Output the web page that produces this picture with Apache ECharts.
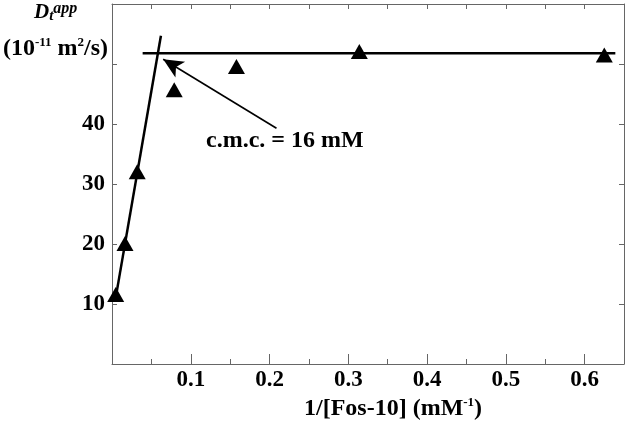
<!DOCTYPE html>
<html>
<head>
<meta charset="utf-8">
<script src="https://cdn.jsdelivr.net/npm/echarts@6/dist/echarts.min.js"></script>
<style>html,body{margin:0;padding:0;background:#fff;}#c{width:630px;height:424px;}</style>
</head>
<body>
<div id="c"></div>
<script>
// Data
var xValues = [0.0047, 0.0165, 0.032, 0.079, 0.158, 0.314, 0.625];
var yValues = [11.6, 20.1, 32.05, 45.7, 49.6, 52.1, 51.5];
var fitRise = [[0.0045, 10.9], [0.0621, 54.7]];
var fitPlateau = [[0.0389, 51.8], [0.639, 51.8]];
var arrowTail = [0.2088, 39.3];
var arrowHead = [0.065, 50.8];
var xTickLabels = ['0.1', '0.2', '0.3', '0.4', '0.5', '0.6'];
var yTickLabels = ['10', '20', '30', '40'];
var annotationText = 'c.m.c. = 16 mM';

var serif = '"Liberation Serif", "Times New Roman", serif';
var axisColor = '#666';
var points = xValues.map(function (x, i) { return [x, yValues[i]]; });

function xLab(v) {
  var s = (Math.round(v * 100) / 100).toString();
  return xTickLabels.indexOf(s) >= 0 ? s : '';
}
function yLab(v) {
  var s = String(Math.round(v));
  return yTickLabels.indexOf(s) >= 0 && Math.abs(v - Math.round(v)) < 1e-9 ? s : '';
}

var chart = echarts.init(document.getElementById('c'), null, { renderer: 'canvas' });
var baseX = {
  type: 'value', min: 0, max: 0.65, interval: 0.1,
  axisLine: { show: true, onZero: false, lineStyle: { color: axisColor, width: 1 } },
  splitLine: { show: false }
};
var baseY = {
  type: 'value', min: 0, max: 60, interval: 10,
  axisLine: { show: true, onZero: false, lineStyle: { color: axisColor, width: 1 } },
  splitLine: { show: false }
};
chart.setOption({
  animation: false,
  backgroundColor: '#fff',
  grid: { left: 112, right: 6, top: 4, bottom: 60, containLabel: false },
  xAxis: [
    Object.assign({}, baseX, {
      position: 'bottom',
      axisTick: { show: true, inside: true, length: 10, lineStyle: { color: axisColor } },
      minorTick: { show: true, splitNumber: 2, length: 5, lineStyle: { color: axisColor } },
      axisLabel: { show: true, margin: 5, formatter: xLab, color: '#000', fontFamily: serif, fontWeight: 'bold', fontSize: 23 }
    }),
    Object.assign({}, baseX, {
      position: 'top',
      axisTick: { show: true, inside: true, length: 5, lineStyle: { color: axisColor } },
      minorTick: { show: true, splitNumber: 2, length: 5, lineStyle: { color: axisColor } },
      axisLabel: { show: false }
    })
  ],
  yAxis: [
    Object.assign({}, baseY, {
      position: 'left',
      axisTick: { show: true, inside: true, length: 5, lineStyle: { color: axisColor } },
      axisLabel: { show: true, margin: 7, formatter: yLab, color: '#000', fontFamily: serif, fontWeight: 'bold', fontSize: 23 }
    }),
    Object.assign({}, baseY, {
      position: 'right',
      axisTick: { show: true, inside: true, length: 5, lineStyle: { color: axisColor } },
      axisLabel: { show: false }
    })
  ],
  series: [
    {
      type: 'line', data: fitRise, symbol: 'none', silent: true,
      lineStyle: { color: '#000', width: 2.5 }, z: 3
    },
    {
      type: 'line', data: fitPlateau, symbol: 'none', silent: true,
      lineStyle: { color: '#000', width: 2.5 }, z: 3,
      markLine: {
        silent: true, animation: false,
        symbol: ['none', 'arrow'], symbolSize: [14, 20],
        lineStyle: { color: '#000', width: 1.6, type: 'solid' },
        label: { show: false },
        data: [[{ coord: arrowTail }, { coord: arrowHead }]]
      }
    },
    {
      type: 'scatter', data: points, symbol: 'triangle', symbolSize: [17, 15],
      itemStyle: { color: '#000', opacity: 1 }, z: 4
    }
  ],
  graphic: [
    {
      type: 'text', left: 206, top: 129, z: 10,
      style: { text: annotationText, fill: '#000', font: 'bold 24px ' + serif }
    },
    {
      type: 'text', left: 304, top: 396, z: 10,
      style: {
        text: '{a|1/[Fos-10] (mM}{s|-1}{a|)}',
        rich: {
          a: { fontFamily: serif, fontWeight: 'bold', fontSize: 24, fill: '#000', lineHeight: 26 },
          s: { fontFamily: serif, fontWeight: 'bold', fontSize: 13, fill: '#000', verticalAlign: 'top', lineHeight: 15 }
        }
      }
    },
    {
      type: 'text', left: 34, top: 1, z: 10,
      style: {
        text: '{d|D}{t|t}{p|app}',
        rich: {
          d: { fontFamily: serif, fontWeight: 'bold', fontStyle: 'italic', fontSize: 21, fill: '#000', lineHeight: 23 },
          t: { fontFamily: serif, fontWeight: 'bold', fontStyle: 'italic', fontSize: 15, fill: '#000', verticalAlign: 'bottom', lineHeight: 15 },
          p: { fontFamily: serif, fontWeight: 'bold', fontStyle: 'italic', fontSize: 16, fill: '#000', verticalAlign: 'top', lineHeight: 14 }
        }
      }
    },
    {
      type: 'text', left: 3, top: 36, z: 10,
      style: {
        text: '{a|(10}{s|-11}{a| m}{s|2}{a|/s)}',
        rich: {
          a: { fontFamily: serif, fontWeight: 'bold', fontSize: 24, fill: '#000', lineHeight: 26 },
          s: { fontFamily: serif, fontWeight: 'bold', fontSize: 13, fill: '#000', verticalAlign: 'top', lineHeight: 15 }
        }
      }
    }
  ]
});
</script>
</body>
</html>
